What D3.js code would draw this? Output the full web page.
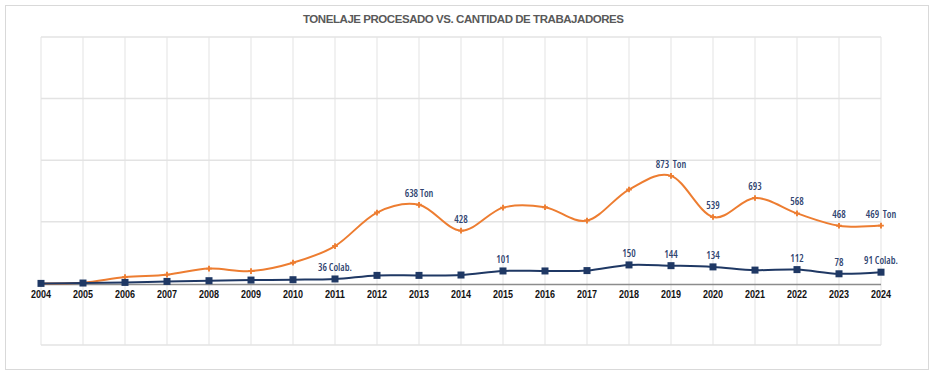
<!DOCTYPE html>
<html>
<head>
<meta charset="utf-8">
<script src="https://cdn.jsdelivr.net/npm/d3@7"></script>
<style>
  body { margin: 0; background: #fff; }
  svg { display: block; }
</style>
</head>
<body>
<div id="chart"></div>
<script>
const years = [2004, 2005, 2006, 2007, 2008, 2009, 2010, 2011, 2012, 2013, 2014,
               2015, 2016, 2017, 2018, 2019, 2020, 2021, 2022, 2023, 2024];
const toneladas = [0, 5, 51, 71, 120, 100, 168, 303, 575, 638, 428,
                   615, 618, 510, 762, 873, 539, 693, 568, 468, 469];
const colaboradores = [0, 3, 8, 16, 22, 27, 30, 36, 65, 65, 68,
                       101, 101, 104, 150, 144, 134, 108, 112, 78, 91];
const tonLabels = { 2013: "638 Ton", 2014: "428", 2019: "873  Ton", 2020: "539",
                    2021: "693", 2022: "568", 2023: "468", 2024: "469  Ton" };
const colLabels = { 2011: "36 Colab.", 2015: "101", 2018: "150", 2019: "144",
                    2020: "134", 2022: "112", 2023: "78", 2024: "91 Colab." };
const yTicks = [-500, 0, 500, 1000, 1500, 2000];

const W = 934, H = 375;
const plot = { left: 41, right: 881, top: 37, bottom: 345 };

const svg = d3.select("#chart").append("svg")
    .attr("width", W)
    .attr("height", H);

svg.append("rect")
    .attr("x", 5.5).attr("y", 5.5)
    .attr("width", 923).attr("height", 364)
    .attr("fill", "#fff")
    .attr("stroke", "#d9d9d9");

// title is a condensed font in the original, so squeeze it to the same width
svg.append("text")
    .attr("x", 303)
    .attr("y", 23)
    .attr("font-family", "'Liberation Sans', Arial, sans-serif")
    .attr("font-size", "11.5px")
    .attr("font-weight", "bold")
    .attr("fill", "#595959")
    .attr("textLength", 321)
    .attr("lengthAdjust", "spacing")
    .style("font-stretch", "condensed")
    .text("TONELAJE PROCESADO VS. CANTIDAD DE TRABAJADORES");

const xScale = d3.scaleLinear().domain([2004, 2024]).range([plot.left, plot.right]);
const yScale = d3.scaleLinear().domain([-500, 2000]).range([plot.bottom, plot.top]);

// grid
svg.selectAll(".vgrid")
    .data(years)
    .enter().append("line")
    .attr("class", "vgrid")
    .attr("x1", d => xScale(d)).attr("x2", d => xScale(d))
    .attr("y1", plot.top).attr("y2", plot.bottom)
    .attr("stroke", "#e3e3e3")
    .attr("stroke-width", 1);

svg.selectAll(".hgrid")
    .data(yTicks.filter(d => d !== 0))
    .enter().append("line")
    .attr("class", "hgrid")
    .attr("x1", plot.left).attr("x2", plot.right)
    .attr("y1", d => yScale(d)).attr("y2", d => yScale(d))
    .attr("stroke", "#e3e3e3")
    .attr("stroke-width", 1.5);

// zero axis
svg.append("line")
    .attr("x1", plot.left).attr("x2", plot.right)
    .attr("y1", yScale(0) + 1).attr("y2", yScale(0) + 1)
    .attr("stroke", "#8c8c8c")
    .attr("stroke-width", 1.5);

svg.selectAll(".yearLabel")
    .data(years)
    .enter().append("text")
    .attr("class", "yearLabel")
    .attr("x", d => xScale(d) - 10)
    .attr("y", yScale(0) + 15)
    .attr("font-family", "'Liberation Sans', Arial, sans-serif")
    .attr("font-size", "11px")
    .attr("font-weight", "bold")
    .attr("fill", "#111")
    .attr("textLength", 20)
    .attr("lengthAdjust", "spacingAndGlyphs")
    .text(d => d);

const curve = d3.curveCatmullRom.alpha(0);

// tonelaje
svg.append("path")
    .datum(years)
    .attr("fill", "none")
    .attr("stroke", "#ed7d31")
    .attr("stroke-width", 2)
    .attr("d", d3.line()
        .x(d => xScale(d))
        .y((d, i) => yScale(toneladas[i]))
        .curve(curve));

svg.selectAll(".tonMarker")
    .data(years)
    .enter().append("path")
    .attr("class", "tonMarker")
    .attr("transform", (d, i) => `translate(${xScale(d)},${yScale(toneladas[i])})`)
    .attr("d", d3.symbol().type(d3.symbolCross).size(18))
    .attr("fill", "#ed7d31");

// colaboradores
svg.append("path")
    .datum(years)
    .attr("fill", "none")
    .attr("stroke", "#1f3864")
    .attr("stroke-width", 2)
    .attr("d", d3.line()
        .x(d => xScale(d))
        .y((d, i) => yScale(colaboradores[i]))
        .curve(curve));

svg.selectAll(".colMarker")
    .data(years)
    .enter().append("rect")
    .attr("class", "colMarker")
    .attr("x", d => xScale(d) - 3.5)
    .attr("y", (d, i) => yScale(colaboradores[i]) - 3.5)
    .attr("width", 7).attr("height", 7)
    .attr("fill", "#1f3864");

// data labels
const labelFont = "'Open Sans', 'Noto Sans', sans-serif";

svg.selectAll(".tonLabel")
    .data(years.filter(d => tonLabels[d]))
    .enter().append("text")
    .attr("class", "tonLabel")
    .attr("x", d => xScale(d))
    .attr("y", d => yScale(toneladas[years.indexOf(d)]) - 8)
    .attr("text-anchor", "middle")
    .attr("font-family", labelFont)
    .attr("font-size", "10px")
    .attr("font-weight", "600")
    .attr("fill", "#2f4470")
    .attr("xml:space", "preserve")
    .style("font-stretch", "87.5%")
    .text(d => tonLabels[d]);

svg.selectAll(".colLabel")
    .data(years.filter(d => colLabels[d]))
    .enter().append("text")
    .attr("class", "colLabel")
    .attr("x", d => xScale(d))
    .attr("y", d => yScale(colaboradores[years.indexOf(d)]) - 8)
    .attr("text-anchor", "middle")
    .attr("font-family", labelFont)
    .attr("font-size", "10px")
    .attr("font-weight", "600")
    .attr("fill", "#2f4470")
    .style("font-stretch", "87.5%")
    .text(d => colLabels[d]);
</script>
</body>
</html>
